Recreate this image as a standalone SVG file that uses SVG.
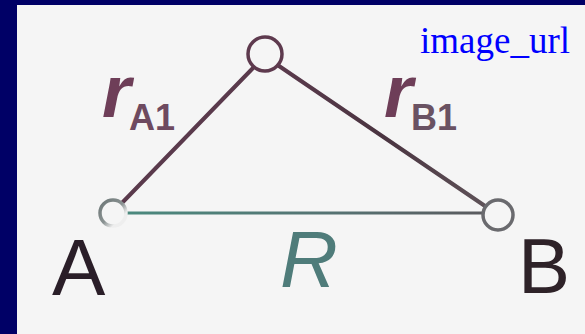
<svg xmlns="http://www.w3.org/2000/svg" width="585" height="334" viewBox="0 0 585 334">
<defs>
<style>
.sans{font-family:"Liberation Sans","Arial",sans-serif}
.node{fill:#f5f5f5;stroke-width:3.5}
.edge{fill:none;stroke-linecap:round}
</style>
<linearGradient id="gA" x1="0" y1="0" x2="1" y2="1">
<stop offset="0" stop-color="#6c7676"/>
<stop offset="0.5" stop-color="#8a9292"/>
<stop offset="0.75" stop-color="#eeeeee"/>
</linearGradient>
<linearGradient id="gR" gradientUnits="userSpaceOnUse" x1="118" y1="0" x2="484" y2="0">
<stop offset="0" stop-color="#4a8a7e"/>
<stop offset="0.6" stop-color="#567272"/>
<stop offset="1" stop-color="#5a5a5e"/>
</linearGradient>
<linearGradient id="gB1" gradientUnits="userSpaceOnUse" x1="280" y1="66" x2="485" y2="207">
<stop offset="0" stop-color="#5a3a4c"/>
<stop offset="0.5" stop-color="#4a3440"/>
<stop offset="1" stop-color="#5e5258"/>
</linearGradient>
</defs>
<rect x="0" y="0" width="585" height="334" fill="#000066"/>
<rect x="17" y="5" width="568" height="329" fill="#f5f5f5"/>
<g id="connectors">
<line class="edge" x1="120" y1="205" x2="253" y2="68" stroke="#5a3a4c" stroke-width="4"/>
<line class="edge" x1="279" y1="66" x2="485" y2="206" stroke="url(#gB1)" stroke-width="4"/>
<line class="edge" x1="126" y1="213" x2="483" y2="213" stroke="url(#gR)" stroke-width="3"/>
</g>
<g id="node-top"><circle class="node" cx="265" cy="54" r="17" stroke="#5e3a4e" stroke-width="5"/></g>
<g id="node-A"><circle class="node" cx="113" cy="213" r="13" stroke="url(#gA)"/></g>
<g id="node-B"><circle class="node" cx="498" cy="215" r="15" stroke="#6a6a6e"/></g>
<g id="labels">
<text class="sans" x="102" y="117" font-size="74" font-style="italic" font-weight="bold" fill="#6e3e58">r</text>
<text class="sans" x="129" y="130" font-size="36" font-weight="bold" fill="#6e4a60">A1</text>
<text class="sans" x="384" y="117" font-size="74" font-style="italic" font-weight="bold" fill="#6e3e58">r</text>
<text class="sans" x="411" y="130" font-size="36" font-weight="bold" fill="#6a5262">B1</text>
<text class="sans" x="52" y="295" font-size="80" fill="#2a1e28">A</text>
<text class="sans" x="280" y="287" font-size="80" font-style="italic" fill="#4f7c7a">R</text>
<text class="sans" x="518" y="293" font-size="78" fill="#2e2228">B</text>
<text x="420" y="53" font-family="'Liberation Serif','Times New Roman',serif" font-size="37" fill="#0000ff">image_url</text>
</g>
</svg>
